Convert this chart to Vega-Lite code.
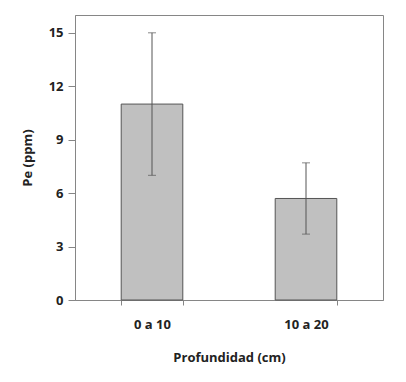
{
  "$schema": "https://vega.github.io/schema/vega-lite/v6.json",
  "autosize": "none",
  "width": 308,
  "height": 285,
  "padding": {"left": 75, "top": 15, "right": 23, "bottom": 82},
  "background": "white",
  "config": {
    "view": {"stroke": "#868686", "strokeWidth": 1},
    "font": "Open Sans",
    "axis": {
      "grid": false,
      "domainColor": "#868686",
      "tickColor": "#868686",
      "labelFont": "Open Sans",
      "labelFontWeight": "bold",
      "labelFontSize": 13,
      "labelColor": "#222222",
      "titleFont": "Open Sans",
      "titleFontWeight": "bold",
      "titleFontSize": 13,
      "titleColor": "#222222"
    }
  },
  "data": {
    "values": [
      {"Profundidad": "0 a 10", "Pe": 11.0, "low": 7.0, "high": 15.0},
      {"Profundidad": "10 a 20", "Pe": 5.7, "low": 3.7, "high": 7.7}
    ]
  },
  "encoding": {
    "x": {
      "field": "Profundidad",
      "type": "nominal",
      "sort": null,
      "title": "Profundidad (cm)",
      "scale": {"paddingInner": 0.6, "paddingOuter": 0.3},
      "axis": {"labelAngle": 0, "tickBand": "extent", "tickSize": 5, "labelPadding": 13, "titlePadding": 20}
    }
  },
  "layer": [
    {
      "mark": {"type": "bar", "color": "#c0c0c0", "stroke": "#555555", "strokeWidth": 1},
      "encoding": {
        "y": {
          "field": "Pe",
          "type": "quantitative",
          "title": "Pe (ppm)",
          "scale": {"domain": [0, 16], "nice": false},
          "axis": {"values": [0, 3, 6, 9, 12, 15], "tickSize": 7, "labelPadding": 5, "titlePadding": 14}
        }
      }
    },
    {
      "mark": {"type": "errorbar", "ticks": {"size": 8, "color": "#555555"}, "rule": {"color": "#555555"}},
      "encoding": {
        "y": {"field": "low", "type": "quantitative", "title": "Pe (ppm)"},
        "y2": {"field": "high"}
      }
    }
  ]
}
